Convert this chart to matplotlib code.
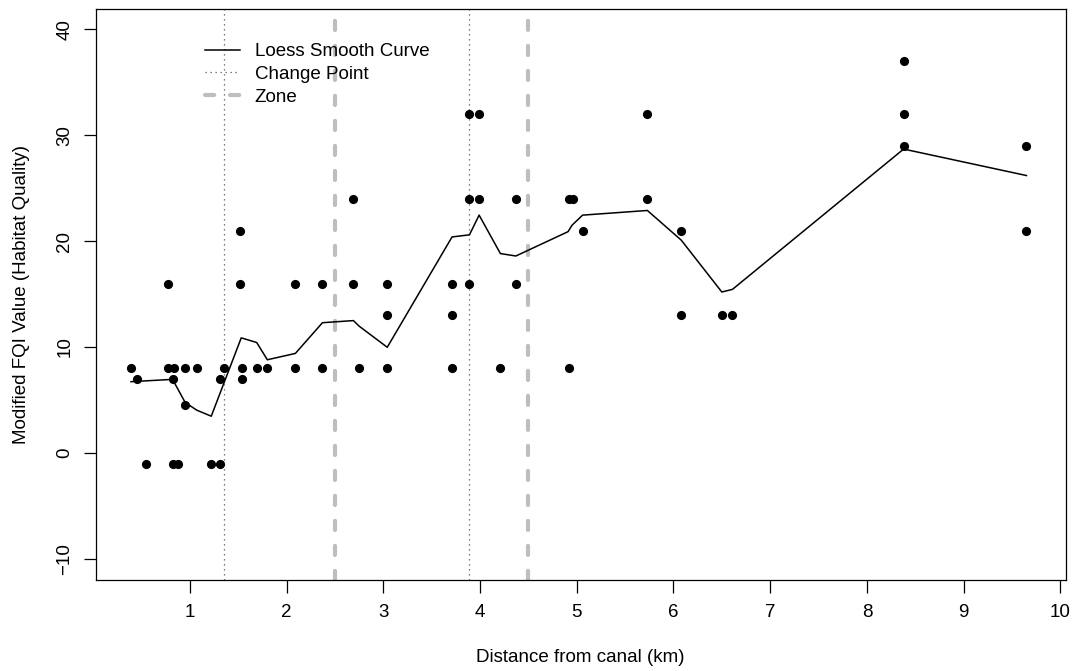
import matplotlib
matplotlib.use("Agg")
import matplotlib.pyplot as plt
from matplotlib.lines import Line2D

plt.rcParams['font.family'] = ['Liberation Sans', 'DejaVu Sans']

# Observed points
pts_x = [0.39, 0.77, 0.83, 0.95, 1.07, 1.35, 1.54, 1.69, 1.80, 2.09, 2.37, 2.75, 3.04, 3.71, 4.21, 4.92,
         0.45, 0.82, 1.31, 1.54,
         0.95,
         0.55, 0.82, 0.88, 1.22, 1.31,
         0.77, 1.52, 2.09, 2.37, 2.69, 3.04, 3.71, 3.89, 4.37,
         3.04, 3.71, 6.08, 6.50, 6.61,
         1.52, 5.06, 6.08, 9.65,
         2.69, 3.89, 3.99, 4.37, 4.92, 4.96, 5.73,
         3.89, 3.99, 5.73, 8.38,
         8.38,
         8.38, 9.65]
pts_y = [8] * 16 + [7] * 4 + [4.5] + [-1] * 5 + [16] * 9 + [13] * 5 + [21] * 4 + [24] * 7 + [32] * 4 + [37] + [29] * 2

# Loess smooth curve
curve_x = [0.39, 0.82, 0.95, 1.07, 1.22, 1.53, 1.69, 1.80, 2.09, 2.37, 2.69, 2.75, 3.04,
           3.71, 3.89, 3.99, 4.21, 4.37, 4.91, 4.95, 5.06, 5.73, 6.08, 6.50, 6.61, 8.38, 9.65]
curve_y = [6.73, 6.95, 4.77, 4.04, 3.47, 10.87, 10.43, 8.8, 9.4, 12.3, 12.5, 11.97, 9.98,
           20.4, 20.6, 22.46, 18.83, 18.6, 20.9, 21.5, 22.46, 22.9, 20.1, 15.2, 15.45, 28.7, 26.2]

change_points = [1.35, 3.89]
zones = [2.5, 4.5]

x_ticks = [1, 2, 3, 4, 5, 6, 7, 8, 9, 10]
y_ticks = [-10, 0, 10, 20, 30, 40]

FS = 13.5
W, H = 1074, 671
fig = plt.figure(figsize=(W / 100, H / 100), dpi=100)
L, R, T, B = 95.7, 1065.7, 9.3, 580.0
ax = fig.add_axes([L / W, 1 - B / H, (R - L) / W, (B - T) / H])

ax.plot(pts_x, pts_y, 'o', color='black', markersize=6.6, markeredgewidth=0, zorder=3)
ax.plot(curve_x, curve_y, '-', color='black', linewidth=1.1, zorder=2)
for cp in change_points:
    ax.axvline(cp, color='#555555', linewidth=0.9, dashes=(1, 3), zorder=1)
for z in zones:
    ax.axvline(z, color='#BEBEBE', linewidth=3, dashes=(2.2, 3.8), dash_capstyle='round', zorder=1)

ax.set_xlim(0.025, 10.056)
ax.set_ylim(-12, 41.9)
ax.set_xticks(x_ticks)
ax.set_yticks(y_ticks)
ax.set_yticklabels([str(v).replace('-', '\u2212') for v in y_ticks], rotation=90, va='center')
ax.tick_params(axis='both', direction='out', length=9, width=0.9, labelsize=FS, colors='black')
ax.tick_params(axis='x', pad=8.5)
ax.tick_params(axis='y', pad=7)
for s in ax.spines.values():
    s.set_linewidth(0.9)

ax.set_xlabel('Distance from canal (km)', fontsize=FS, labelpad=20)
ax.set_ylabel('Modified FQI Value (Habitat Quality)', fontsize=FS, labelpad=19)

handles = [Line2D([], [], color='black', linewidth=1.1),
           Line2D([], [], color='#555555', linewidth=0.9, dashes=(1, 3)),
           Line2D([], [], color='#BEBEBE', linewidth=3, dashes=(2.2, 3.8), dash_capstyle='round')]
labels = ['Loess Smooth Curve', 'Change Point', 'Zone']
ax.legend(handles, labels, loc='upper left', bbox_to_anchor=(205 / W, 1 - 43 / H),
          bbox_transform=fig.transFigure, frameon=False, fontsize=FS,
          handlelength=1.85, handletextpad=0.8, labelspacing=0.3, borderpad=0, borderaxespad=0)

fig.savefig('out.png', dpi=100)
